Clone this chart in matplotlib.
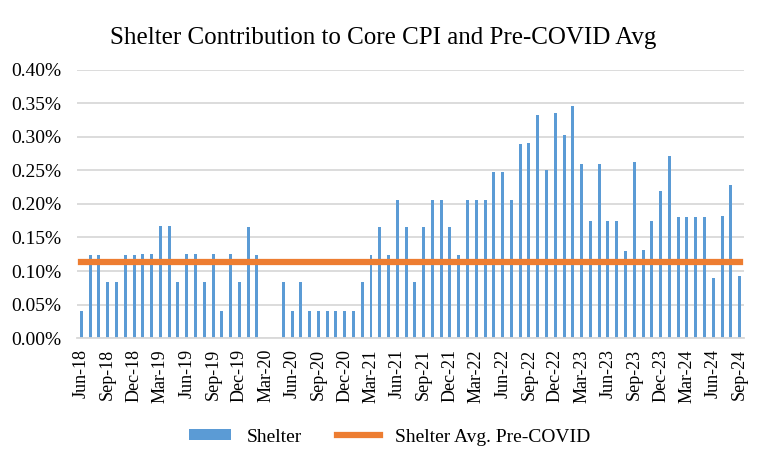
import matplotlib
matplotlib.use("Agg")
import matplotlib.pyplot as plt
import pandas as pd

plt.rcParams['font.family'] = ['Liberation Serif', 'DejaVu Serif']

# monthly shelter contribution, % points, Jun-18 .. Sep-24
months = pd.date_range('2018-06-01', '2024-09-01', freq='MS')
shelter = [
    0.041, 0.124, 0.124, 0.083, 0.083, 0.124, 0.124, 0.126, 0.126, 0.167,
    0.167, 0.084, 0.126, 0.126, 0.084, 0.126, 0.041, 0.126, 0.084, 0.166,
    0.124, 0.0, 0.0, 0.083, 0.041, 0.084, 0.041, 0.041, 0.041, 0.041,
    0.041, 0.041, 0.083, 0.124, 0.166, 0.124, 0.206, 0.165, 0.083, 0.165,
    0.206, 0.206, 0.165, 0.124, 0.206, 0.206, 0.206, 0.248, 0.248, 0.206,
    0.290, 0.291, 0.333, 0.251, 0.336, 0.303, 0.346, 0.260, 0.174, 0.260,
    0.174, 0.174, 0.130, 0.263, 0.132, 0.175, 0.220, 0.272, 0.181, 0.181,
    0.181, 0.181, 0.090, 0.182, 0.229, 0.092,
]
pre_covid_avg = 0.1133
labels = [m.strftime('%b-%y') for m in months]

fig = plt.figure(figsize=(7.67, 4.65), dpi=100)
ax = fig.add_axes([0.1004, 0.2731, 0.8696, 0.5764])

x = list(range(len(shelter)))
bars = ax.bar(x, shelter, width=0.34, color='#5B9BD5', label='Shelter', zorder=2)
line, = ax.plot(x, [pre_covid_avg] * len(x), color='#ED7D31', lw=4.5,
                label='Shelter Avg. Pre-COVID', zorder=3)

ax.set_xlim(-0.5, len(x) - 0.5)
ax.set_ylim(0, 0.40)
yt = [i * 0.05 for i in range(9)]
ax.set_yticks(yt)
ax.set_yticklabels(['%.2f%%' % v for v in yt], fontsize=14)
ax.set_xticks(x[::3])
ax.set_xticklabels(labels[::3], rotation=90, fontsize=13)
ax.tick_params(length=0)
ax.tick_params(axis='x', pad=8)
ax.tick_params(axis='y', pad=11)
ax.grid(axis='y', color='#d9d9d9', lw=1.3, zorder=0)
for s in ['top', 'right', 'left']:
    ax.spines[s].set_visible(False)
ax.spines['bottom'].set_color('#d9d9d9')
ax.spines['bottom'].set_linewidth(1.3)

fig.suptitle('Shelter Contribution to Core CPI and Pre-COVID Avg',
             x=0.5, y=0.942, fontsize=18)
fig.legend([bars, line], ['Shelter', 'Shelter Avg. Pre-COVID'],
           loc='center', bbox_to_anchor=(0.508, 0.06), ncol=2, frameon=False,
           fontsize=14, handlelength=2.2, handleheight=0.5, columnspacing=1.8)

fig.savefig('out.png', dpi=100)
